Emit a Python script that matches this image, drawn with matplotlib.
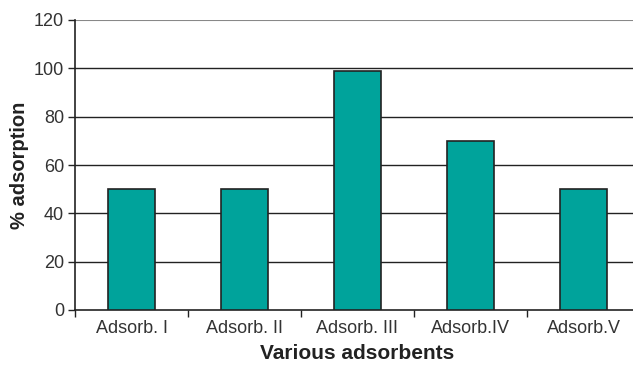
import numpy as np
import matplotlib
matplotlib.use("Agg")
import matplotlib.pyplot as plt

plt.rcParams['font.family'] = ['Liberation Sans', 'DejaVu Sans']

categories = ["Adsorb. I", "Adsorb. II", "Adsorb. III", "Adsorb.IV", "Adsorb.V"]
adsorption = [50, 50, 99, 70, 50]
y_ticks = [0, 20, 40, 60, 80, 100, 120]

fig = plt.figure(figsize=(6.33, 3.67), dpi=100)
ax = fig.add_axes([75 / 633, 1 - 310 / 367, 565 / 633, 290 / 367])

x = np.arange(len(categories))
ax.bar(x, adsorption, width=0.41, color="#00a39b", edgecolor="#222222",
       linewidth=1.2, zorder=3)

ax.set_xlim(-0.5, len(categories) - 0.5)
ax.set_ylim(0, 120)
ax.set_yticks(y_ticks)
ax.tick_params(axis="y", labelsize=13, length=5, width=1, colors="#222222",
               labelcolor="#333333", pad=3)

# category labels centred, ticks on the boundaries
ax.set_xticks(x)
ax.set_xticklabels(categories, fontsize=13, color="#333333")
ax.tick_params(axis="x", which="major", length=0, pad=7)
ax.set_xticks(np.arange(len(categories) + 1) - 0.5, minor=True)
ax.tick_params(axis="x", which="minor", length=5, width=1, colors="#222222")

for yv in y_ticks[1:-1]:
    ax.axhline(yv, color="#222222", linewidth=1, zorder=1)
ax.axhline(120, color="#888888", linewidth=1.5, zorder=1)

for side in ["top", "right"]:
    ax.spines[side].set_visible(False)
ax.spines["left"].set_color("#222222")
ax.spines["bottom"].set_color("#222222")
ax.spines["left"].set_linewidth(1.2)
ax.spines["bottom"].set_linewidth(1.2)

ax.set_xlabel("Various adsorbents", fontsize=15, fontweight="bold",
              color="#222222", labelpad=5)
ax.set_ylabel("% adsorption", fontsize=14.5, fontweight="bold",
              color="#222222", labelpad=3)

fig.savefig("out.png", dpi=100)
